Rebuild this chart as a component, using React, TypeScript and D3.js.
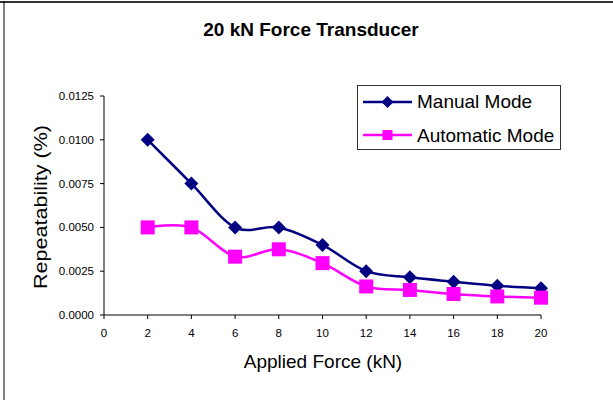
import React from "react";
import * as d3 from "d3";

const forces = [2, 4, 6, 8, 10, 12, 14, 16, 18, 20];
const manualMode = [0.01, 0.0075, 0.005, 0.005, 0.004, 0.0025, 0.00215, 0.0019, 0.00167, 0.00153];
const automaticMode = [0.005, 0.005, 0.00333, 0.00375, 0.00296, 0.00163, 0.00143, 0.0012, 0.00106, 0.00099];
const xTicks = [0, 2, 4, 6, 8, 10, 12, 14, 16, 18, 20];
const yTicks = [0, 0.0025, 0.005, 0.0075, 0.01, 0.0125];

const W = 613;
const H = 400;
const FONT = "'Liberation Sans', Arial, sans-serif";
const NAVY = "#000080";
const MAGENTA = "#FF00FF";

export default function App() {
  const x = d3.scaleLinear().domain([0, 20]).range([104, 541]);
  const y = d3.scaleLinear().domain([0, 0.0125]).range([315, 96]);

  const line = d3
    .line<[number, number]>()
    .x((d) => x(d[0]))
    .y((d) => y(d[1]))
    .curve(d3.curveCardinal.tension(0));

  const manualPts = forces.map((f, i) => [f, manualMode[i]] as [number, number]);
  const autoPts = forces.map((f, i) => [f, automaticMode[i]] as [number, number]);

  const diamond = (cx: number, cy: number, r: number) =>
    `M${cx},${cy - r}L${cx + r},${cy}L${cx},${cy + r}L${cx - r},${cy}Z`;

  return (
    <div style={{ position: "absolute", left: 0, top: 0 }}>
      <svg width={W} height={H} style={{ display: "block", background: "#fff" }}>
        {/* chart frame */}
        <line x1={0} y1={2} x2={W} y2={2} stroke="#333" strokeWidth={2} />
        <line x1={4} y1={1} x2={4} y2={H} stroke="#000" strokeWidth={1} />

        <text x={311} y={36} textAnchor="middle" fontFamily={FONT} fontWeight="bold" fontSize={19} fill="#000">
          20 kN Force Transducer
        </text>

        {/* axes */}
        <line x1={104} y1={y(0.0125)} x2={104} y2={315} stroke="#000" strokeWidth={1} />
        <line x1={104} y1={315} x2={541} y2={315} stroke="#000" strokeWidth={1} />
        {yTicks.map((t) => (
          <g key={"y" + t}>
            <line x1={100} x2={104} y1={y(t)} y2={y(t)} stroke="#000" />
            <text x={94} y={y(t) + 4} textAnchor="end" fontFamily={FONT} fontSize={11.5} fill="#000">
              {t.toFixed(4)}
            </text>
          </g>
        ))}
        {xTicks.map((t) => (
          <g key={"x" + t}>
            <line x1={x(t)} x2={x(t)} y1={315} y2={319} stroke="#000" />
            <text x={x(t)} y={337} textAnchor="middle" fontFamily={FONT} fontSize={11.5} fill="#000">
              {t}
            </text>
          </g>
        ))}

        <text x={323} y={368} textAnchor="middle" fontFamily={FONT} fontSize={19} fill="#000">
          Applied Force (kN)
        </text>
        <text
          transform="translate(47,207) rotate(-90)"
          textAnchor="middle"
          fontFamily={FONT}
          fontSize={19}
          textLength={164}
          lengthAdjust="spacingAndGlyphs"
          fill="#000"
        >
          Repeatability (%)
        </text>

        {/* series */}
        <path d={line(manualPts) ?? ""} fill="none" stroke={NAVY} strokeWidth={2.5} />
        <path d={line(autoPts) ?? ""} fill="none" stroke={MAGENTA} strokeWidth={2.5} />
        {manualPts.map((p, i) => (
          <path key={"m" + i} d={diamond(x(p[0]), y(p[1]), 7)} fill={NAVY} />
        ))}
        {autoPts.map((p, i) => (
          <rect key={"a" + i} x={x(p[0]) - 7} y={y(p[1]) - 7} width={14} height={14} fill={MAGENTA} />
        ))}

        {/* legend */}
        <rect x={357.5} y={85.5} width={203} height={64} fill="#fff" stroke="#333" strokeWidth={1} />
        <line x1={363} x2={412} y1={102} y2={102} stroke={NAVY} strokeWidth={2.5} />
        <path d={diamond(387.5, 102, 6)} fill={NAVY} />
        <text x={417} y={108} fontFamily={FONT} fontSize={19} fill="#000">
          Manual Mode
        </text>
        <line x1={363} x2={412} y1={135} y2={135} stroke={MAGENTA} strokeWidth={2.5} />
        <rect x={382.5} y={130} width={10} height={10} fill={MAGENTA} />
        <text x={417} y={141.5} fontFamily={FONT} fontSize={19} fill="#000">
          Automatic Mode
        </text>
      </svg>
    </div>
  );
}
